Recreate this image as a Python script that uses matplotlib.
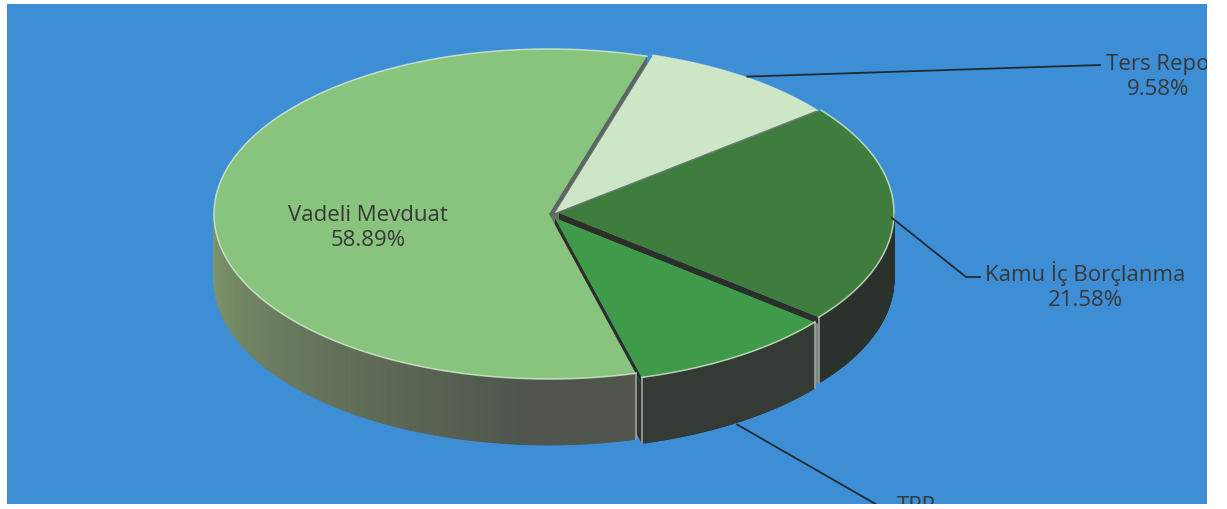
"""
3D pie: portfolio split (Vadeli Mevduat / Ters Repo / Kamu İç Borçlanma / TPP).
"""
import numpy as np
import matplotlib.pyplot as plt
from matplotlib.patches import Polygon, Rectangle

# slices listed clockwise starting from the top
labels = ["Ters Repo", "Kamu İç Borçlanma", "TPP", "Vadeli Mevduat"]
shares = [9.58, 21.58, 9.95, 58.89]

top_colors = ["#cde6c6", "#3f7d3e", "#3f9a4a", "#88c47e"]
wall_colors = ["#8a9a86", "#2b312b", "#343a34", None]   # None -> shaded
face_dark = ["#6f7a6c", "#2a2f2a", "#2a2f2a", "#5f645d"]
face_light = ["#8a9688", "#80857e", "#30352f", "#6a6f68"]
offsets = [(0, -1), (4, -1), (0, 4), (-6, 0)]

CX, CY, RX, RY, DEPTH = 555, 215, 335, 165, 66
START = 73
BG = "#3e8ed6"
TXT = "#383838"
LEAD = "#1e2a33"
EDGE = "#9fa59c"


def pt(t, r, z, off):
    a = np.radians(t)
    return (CX + off[0] + RX * r * np.cos(a), CY + off[1] - RY * r * np.sin(a) + z)


def vadeli_wall(t):
    # lighter grey-green on the left, darker towards the front
    k = np.clip((t + 180) / 85.0, 0, 1)
    c0 = np.array([128, 152, 108]) / 255
    c1 = np.array([80, 86, 77]) / 255
    return tuple(c0 * (1 - k) + c1 * k)


fig = plt.figure(figsize=(12.27, 5.10), dpi=100, facecolor="white")
ax = fig.add_axes([0, 0, 1, 1])
ax.set_xlim(0, 1227)
ax.set_ylim(510, 0)
ax.axis("off")

bg = Rectangle((7, 5), 1200, 500, facecolor=BG, edgecolor="none", zorder=0)
ax.add_patch(bg)

# angles of every slice
bounds = []
t = START
for s in shares:
    bounds.append((t, t - s * 3.6))
    t -= s * 3.6
mids = [(a + b) / 2 for a, b in bounds]

order = sorted(range(len(shares)), key=lambda i: -np.sin(np.radians(mids[i])))

# radial cut faces (drawn first, the walls hide what is behind them)
for i in order:
    t0, t1 = bounds[i]
    off = offsets[i]
    for tb, vis in [(t0, np.cos(np.radians(t0)) < 0), (t1, np.cos(np.radians(t1)) > 0)]:
        if not vis:
            continue
        band = 7
        p = [pt(tb, 0, 0, off), pt(tb, 1, 0, off), pt(tb, 1, band, off), pt(tb, 0, band, off)]
        ax.add_patch(Polygon(p, closed=True, facecolor=face_dark[i], edgecolor="none", zorder=1))
        p = [pt(tb, 0, band, off), pt(tb, 1, band, off), pt(tb, 1, DEPTH, off), pt(tb, 0, DEPTH, off)]
        ax.add_patch(Polygon(p, closed=True, facecolor=face_light[i], edgecolor="none", zorder=1))

# outer walls
z = 2
for i in order:
    t0, t1 = bounds[i]
    off = offsets[i]
    ts = np.linspace(t1, t0, 200)
    vis_t = []
    for a, b in zip(ts[:-1], ts[1:]):
        m = (a + b) / 2
        if np.sin(np.radians(m)) >= 0:
            continue
        vis_t += [a, b]
        col = wall_colors[i] if wall_colors[i] else vadeli_wall(((m + 180) % 360) - 180)
        p = [pt(a, 1, 0, off), pt(b, 1, 0, off), pt(b, 1, DEPTH, off), pt(a, 1, DEPTH, off)]
        ax.add_patch(Polygon(p, closed=True, facecolor=col, edgecolor=col, linewidth=0.6, zorder=z))
    # light vertical edges where a wall ends at a cut
    for tb in (t0, t1):
        if vis_t and min(abs(tb - v) for v in vis_t) < 1e-6:
            e0, e1 = pt(tb, 1, 0, off), pt(tb, 1, DEPTH, off)
            ax.plot([e0[0], e1[0]], [e0[1], e1[1]], color=EDGE, lw=1.2, zorder=z + 0.1)
    z += 1

# top faces
for i in order:
    t0, t1 = bounds[i]
    off = offsets[i]
    ts = np.linspace(t0, t1, 200)
    p = [pt(0, 0, 0, off)] + [pt(a, 1, 0, off) for a in ts]
    ax.add_patch(Polygon(p, closed=True, facecolor=top_colors[i], edgecolor="none", zorder=10))
    rim = np.array([pt(a, 1, 0, off) for a in ts])
    ax.plot(rim[:, 0], rim[:, 1], color="#d6ecd0", lw=1.1, alpha=0.8, zorder=11)

# labels
font = "Open Sans"
kw = dict(ha="center", fontsize=16, color=TXT, family=font, linespacing=1.2, zorder=20)
ax.text(368, 228, "Vadeli Mevduat\n58.89%", va="center", **kw)

# Ters Repo
a = pt(mids[0], 1, 0, offsets[0])
ax.plot([a[0] + 4, 1100], [a[1], 66], color=LEAD, lw=1.3, zorder=12)
t1 = ax.text(1158, 77, "Ters Repo\n9.58%", va="center", clip_on=True, **kw)
t1.set_clip_path(bg)

# Kamu İç Borçlanma
a = pt(mids[1], 1, 0, offsets[1])
ax.plot([a[0] - 2, 966, 980], [a[1] + 4, 278, 278], color=LEAD, lw=1.3, zorder=12)
ax.text(1085, 286, "Kamu İç Borçlanma\n21.58%", va="center", **kw)

# TPP (cut off by the frame)
a = pt(mids[2], 1, DEPTH, offsets[2])
ln, = ax.plot([a[0], 879], [a[1] + 2, 507], color=LEAD, lw=1.3, zorder=12)
ln.set_clip_path(bg)
t3 = ax.text(916, 496, "TPP\n9.95%", va="top", clip_on=True, **kw)
t3.set_clip_path(bg)

fig.savefig("out.png", dpi=100, facecolor="white")
